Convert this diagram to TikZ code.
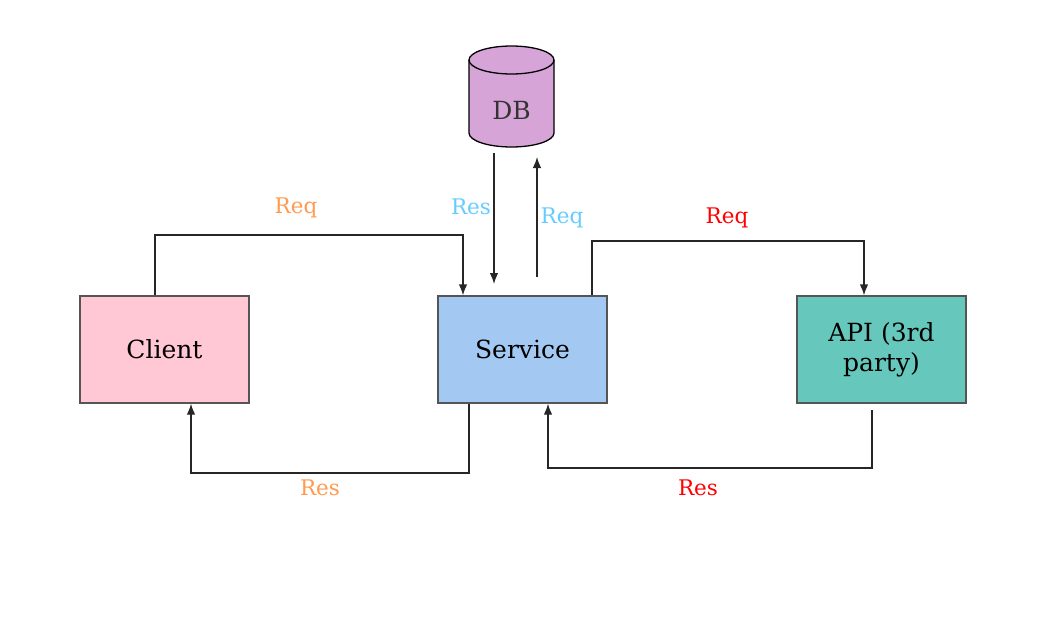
\documentclass[tikz,border=0pt]{standalone}
\usepackage{fontspec}
\setmainfont{DejaVu Serif}
\usetikzlibrary{arrows.meta}
\definecolor{clientfill}{HTML}{FFC8D4}
\definecolor{servicefill}{HTML}{A3C8F2}
\definecolor{apifill}{HTML}{66C8BC}
\definecolor{dbfill}{HTML}{D6A4D6}
\definecolor{boxline}{HTML}{555555}
\definecolor{orangelbl}{HTML}{FF9A50}
\definecolor{bluelbl}{HTML}{66CCFF}
\definecolor{redlbl}{HTML}{FF0000}
\tikzset{
  box/.style={draw=boxline, line width=1.3pt, minimum width=169pt, minimum height=107pt, inner sep=0pt, align=center, font=\fontsize{25}{30}\selectfont},
  conn/.style={draw=black!85, line width=1.3pt, -{Latex[length=11pt,width=8.5pt]}},
  lbl/.style={font=\fontsize{21.5}{25}\selectfont},
}
\begin{document}
\begin{tikzpicture}[x=1pt,y=-1pt]
\useasboundingbox (0,0) rectangle (1039,624);
\node[box, fill=clientfill] (client) at (164.5,349.5) {Client};
\node[box, fill=servicefill] (service) at (522.5,349.5) {Service};
\node[box, fill=apifill] (api) at (881.5,349.5) {API (3rd\\party)};
% DB cylinder
\draw[line width=1.3pt, fill=dbfill] (469,60) -- (469,133) arc[start angle=180, end angle=0, x radius=42.5, y radius=14] -- (554,60) arc[start angle=360, end angle=180, x radius=42.5, y radius=14] -- cycle;
\draw[line width=1.3pt] (469,60) arc[start angle=180, end angle=0, x radius=42.5, y radius=14];
\node[font=\fontsize{25}{30}\selectfont, text=black!80] (db) at (511.5,110) {DB};
% coordinates
\coordinate (c1) at (155,235);
\coordinate (c2) at (463,235);
\coordinate (s1) at (469,473);
\coordinate (s2) at (191,473);
\coordinate (d1) at (494,153);
\coordinate (d2) at (494,284);
\coordinate (e1) at (537,277);
\coordinate (e2) at (537,157);
\coordinate (f1) at (592,241);
\coordinate (f2) at (864,241);
\coordinate (g0) at (872,410);
\coordinate (g1) at (872,468);
\coordinate (g2) at (548,468);
% connectors
\draw[conn] (client.north -| c1) -- (c1) -- (c2) -- (service.north -| c2);
\draw[conn] (service.south -| s1) -- (s1) -- (s2) -- (client.south -| s2);
\draw[conn] (d1) -- (d2);
\draw[conn] (e1) -- (e2);
\draw[conn] (service.north -| f1) -- (f1) -- (f2) -- (api.north -| f2);
\draw[conn] (g0) -- (g1) -- (g2) -- (service.south -| g2);
% labels
\node[lbl, text=orangelbl] (l1) at (296,208) {Req};
\node[lbl, text=orangelbl] (l2) at (320,488) {Res};
\node[lbl, text=bluelbl] (l3) at (471,207) {Res};
\node[lbl, text=bluelbl] (l4) at (562,218) {Req};
\node[lbl, text=redlbl] (l5) at (727,218) {Req};
\node[lbl, text=redlbl] (l6) at (698,488) {Res};
\end{tikzpicture}
\end{document}
